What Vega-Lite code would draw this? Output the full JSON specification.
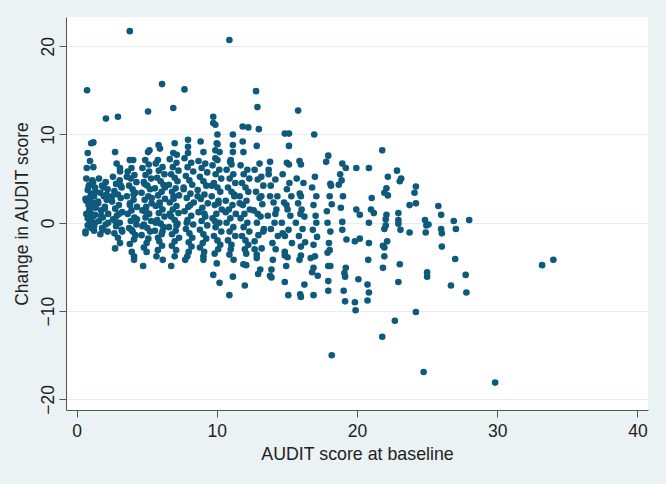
{
"$schema": "https://vega.github.io/schema/vega-lite/v6.json",
"width": 582, "height": 393,
"autosize": {"type": "none"},
"padding": {"left": 66, "top": 17, "right": 18, "bottom": 74},
"background": "#eaf2f3",
"config": {"view": {"fill": "#ffffff", "stroke": null}, "font": "Liberation Sans"},
"data": {"values": [
{"x":0.75,"y":15.0},{"x":1.2,"y":9.1},{"x":1.05,"y":9.0},{"x":0.8,"y":7.9},{"x":0.96,"y":7.0},{"x":0.73,"y":6.2},{"x":1.2,"y":6.3},
{"x":0.70,"y":5.0},{"x":1.18,"y":4.6},{"x":0.92,"y":4.3},{"x":1.32,"y":4.0},{"x":0.80,"y":3.7},{"x":1.05,"y":3.3},{"x":1.25,"y":3.0},{"x":0.64,"y":2.7},{"x":1.12,"y":2.3},{"x":0.86,"y":2.0},{"x":1.36,"y":1.7},{"x":0.97,"y":1.3},{"x":0.70,"y":1.0},{"x":1.18,"y":0.7},{"x":0.92,"y":0.3},{"x":1.32,"y":0.0},{"x":0.80,"y":-0.3},{"x":1.05,"y":-0.6},{"x":1.25,"y":-0.9},{"x":0.64,"y":-1.2},{"x":1.12,"y":4.8},{"x":0.86,"y":4.1},{"x":1.36,"y":3.5},{"x":0.97,"y":2.9},{"x":0.70,"y":2.5},{"x":1.18,"y":1.9},{"x":0.92,"y":1.5},{"x":1.32,"y":0.9},{"x":0.80,"y":0.5},{"x":1.05,"y":0.1},{"x":1.25,"y":-0.4},{"x":0.64,"y":-1.0},{"x":1.12,"y":3.1},{"x":0.86,"y":1.1},
{"x":2.1,"y":11.8},
{"x":1.6,"y":5.0},{"x":2.08,"y":4.6},{"x":1.82,"y":4.2},{"x":2.22,"y":3.8},{"x":1.7,"y":3.4},{"x":1.95,"y":3.0},{"x":2.15,"y":2.6},{"x":1.54,"y":2.2},{"x":2.02,"y":1.8},{"x":1.76,"y":1.4},{"x":2.26,"y":1.0},{"x":1.87,"y":0.6},{"x":1.6,"y":0.2},{"x":2.08,"y":-0.2},{"x":1.82,"y":-0.6},{"x":2.22,"y":-1.0},{"x":1.7,"y":-1.3},{"x":1.95,"y":4.0},{"x":2.15,"y":3.2},{"x":1.54,"y":2.4},{"x":2.02,"y":1.6},{"x":1.76,"y":0.8},{"x":2.26,"y":0.0},{"x":1.87,"y":-0.8},
{"x":2.95,"y":12.0},{"x":2.75,"y":8.0},{"x":2.86,"y":6.7},{"x":3.1,"y":6.2},{"x":3.1,"y":5.8},
{"x":2.6,"y":5.2},{"x":3.08,"y":4.8},{"x":2.82,"y":4.4},{"x":3.22,"y":4.0},{"x":2.7,"y":3.6},{"x":2.95,"y":3.2},{"x":3.15,"y":2.8},{"x":2.54,"y":2.4},{"x":3.02,"y":2.0},{"x":2.76,"y":1.6},{"x":3.26,"y":1.2},{"x":2.87,"y":0.8},{"x":2.6,"y":0.4},{"x":3.08,"y":0.0},{"x":2.82,"y":-0.4},{"x":3.22,"y":-0.8},{"x":2.7,"y":-1.2},{"x":2.95,"y":-1.7},{"x":3.15,"y":4.2},{"x":2.54,"y":3.0},{"x":3.02,"y":1.0},{"x":2.76,"y":0.2},{"x":3.26,"y":-1.0},{"x":3.1,"y":-2.3},{"x":2.75,"y":-2.9},
{"x":3.8,"y":21.7},{"x":3.8,"y":7.1},{"x":4.04,"y":7.1},{"x":3.92,"y":6.2},
{"x":3.65,"y":5.8},{"x":4.13,"y":5.4},{"x":3.87,"y":5.0},{"x":4.27,"y":4.6},{"x":3.75,"y":4.2},{"x":4.0,"y":3.8},{"x":4.2,"y":3.4},{"x":3.59,"y":3.0},{"x":4.07,"y":2.6},{"x":3.81,"y":2.2},{"x":4.31,"y":1.8},{"x":3.92,"y":1.4},{"x":3.65,"y":1.0},{"x":4.13,"y":0.6},{"x":3.87,"y":0.2},{"x":4.27,"y":-0.2},{"x":3.75,"y":-0.6},{"x":4.0,"y":-1.0},{"x":4.2,"y":-1.4},{"x":3.59,"y":5.2},{"x":4.07,"y":3.2},{"x":3.81,"y":2.0},{"x":4.31,"y":0.4},{"x":3.92,"y":-0.8},
{"x":4.1,"y":-1.9},{"x":3.8,"y":-2.4},{"x":3.94,"y":-3.3},{"x":4.1,"y":-3.8},{"x":4.1,"y":-4.2},
{"x":5.1,"y":12.6},{"x":5.2,"y":8.2},{"x":5.1,"y":8.0},{"x":4.9,"y":7.1},{"x":5.15,"y":6.6},
{"x":4.7,"y":6.2},{"x":5.18,"y":5.8},{"x":4.92,"y":5.4},{"x":5.32,"y":5.0},{"x":4.8,"y":4.6},{"x":5.05,"y":4.2},{"x":5.25,"y":3.8},{"x":4.64,"y":3.4},{"x":5.12,"y":3.0},{"x":4.86,"y":2.6},{"x":5.36,"y":2.2},{"x":4.97,"y":1.8},{"x":4.7,"y":1.4},{"x":5.18,"y":1.0},{"x":4.92,"y":0.6},{"x":5.32,"y":0.2},{"x":4.8,"y":-0.2},{"x":5.05,"y":-0.6},{"x":5.25,"y":-1.0},{"x":4.64,"y":-1.4},{"x":5.12,"y":-1.8},{"x":4.86,"y":4.4},{"x":5.36,"y":2.8},{"x":4.97,"y":1.2},{"x":4.7,"y":-0.4},
{"x":5.0,"y":-2.3},{"x":4.8,"y":-2.8},{"x":5.0,"y":-3.3},{"x":4.75,"y":-4.9},
{"x":6.1,"y":15.7},{"x":5.85,"y":8.8},{"x":5.95,"y":8.4},{"x":5.8,"y":7.1},
{"x":5.65,"y":6.7},{"x":6.13,"y":6.3},{"x":5.87,"y":5.9},{"x":6.27,"y":5.5},{"x":5.75,"y":5.1},{"x":6.0,"y":4.7},{"x":6.2,"y":4.3},{"x":5.59,"y":3.9},{"x":6.07,"y":3.5},{"x":5.81,"y":3.1},{"x":6.31,"y":2.7},{"x":5.92,"y":2.3},{"x":5.65,"y":1.9},{"x":6.13,"y":1.5},{"x":5.87,"y":1.1},{"x":6.27,"y":0.7},{"x":5.75,"y":0.3},{"x":6.0,"y":-0.1},{"x":6.2,"y":-0.5},{"x":5.59,"y":-0.9},{"x":6.07,"y":-1.3},{"x":5.81,"y":-1.7},{"x":6.31,"y":4.0},{"x":5.92,"y":2.0},{"x":5.65,"y":0.0},{"x":6.13,"y":-1.0},
{"x":5.9,"y":-2.1},{"x":6.1,"y":-2.6},{"x":5.8,"y":-3.1},{"x":5.7,"y":-3.8},{"x":6.15,"y":-4.2},
{"x":6.9,"y":13.0},{"x":7.0,"y":9.0},{"x":6.9,"y":7.9},{"x":7.15,"y":7.7},
{"x":6.65,"y":7.2},{"x":7.13,"y":6.8},{"x":6.87,"y":6.3},{"x":7.27,"y":5.9},{"x":6.75,"y":5.5},{"x":7.0,"y":5.1},{"x":7.2,"y":4.7},{"x":6.59,"y":4.3},{"x":7.07,"y":3.9},{"x":6.81,"y":3.5},{"x":7.31,"y":3.1},{"x":6.92,"y":2.7},{"x":6.65,"y":2.3},{"x":7.13,"y":1.9},{"x":6.87,"y":1.5},{"x":7.27,"y":1.1},{"x":6.75,"y":0.7},{"x":7.0,"y":0.3},{"x":7.2,"y":-0.1},{"x":6.59,"y":-0.5},{"x":7.07,"y":-0.9},{"x":6.81,"y":-1.3},{"x":7.31,"y":-1.7},{"x":6.92,"y":3.0},{"x":6.65,"y":1.0},{"x":7.13,"y":-0.3},
{"x":7.0,"y":-2.1},{"x":6.8,"y":-2.6},{"x":7.1,"y":-3.1},{"x":7.0,"y":-3.8},{"x":6.75,"y":-4.9},
{"x":7.7,"y":15.1},{"x":7.95,"y":9.4},{"x":7.95,"y":8.6},{"x":7.95,"y":7.9},
{"x":7.7,"y":7.3},{"x":8.18,"y":6.8},{"x":7.92,"y":6.3},{"x":8.32,"y":5.8},{"x":7.8,"y":5.3},{"x":8.05,"y":4.8},{"x":8.25,"y":4.3},{"x":7.64,"y":3.8},{"x":8.12,"y":3.3},{"x":7.86,"y":2.8},{"x":8.36,"y":2.3},{"x":7.97,"y":1.8},{"x":7.7,"y":1.3},{"x":8.18,"y":0.8},{"x":7.92,"y":0.3},{"x":8.32,"y":-0.2},{"x":7.8,"y":-0.7},{"x":8.05,"y":-1.2},{"x":8.25,"y":-1.7},{"x":7.64,"y":4.0},{"x":8.12,"y":2.0},{"x":7.86,"y":0.0},
{"x":8.0,"y":-2.2},{"x":8.2,"y":-2.7},{"x":8.0,"y":-3.3},{"x":7.9,"y":-3.8},{"x":7.75,"y":-4.2},
{"x":8.85,"y":9.2},{"x":9.05,"y":8.0},
{"x":8.7,"y":7.0},{"x":9.18,"y":6.7},{"x":8.92,"y":6.2},{"x":9.32,"y":5.7},{"x":8.8,"y":5.2},{"x":9.05,"y":4.7},{"x":9.25,"y":4.2},{"x":8.64,"y":3.7},{"x":9.12,"y":3.2},{"x":8.86,"y":2.7},{"x":9.36,"y":2.2},{"x":8.97,"y":1.7},{"x":8.7,"y":1.2},{"x":9.18,"y":0.7},{"x":8.92,"y":0.2},{"x":9.32,"y":-0.3},{"x":8.8,"y":-0.8},{"x":9.05,"y":-1.3},{"x":9.25,"y":-1.8},{"x":8.64,"y":3.0},{"x":9.12,"y":1.0},
{"x":9.0,"y":-2.3},{"x":8.8,"y":-2.8},{"x":9.1,"y":-3.3},{"x":9.05,"y":-3.8},{"x":9.05,"y":-4.2},
{"x":9.75,"y":12.0},{"x":9.75,"y":11.3},{"x":9.9,"y":11.1},{"x":10.05,"y":10.0},{"x":10.0,"y":9.0},{"x":10.05,"y":8.9},{"x":9.9,"y":8.2},{"x":10.2,"y":8.0},{"x":9.9,"y":7.3},{"x":10.05,"y":7.1},
{"x":9.7,"y":6.5},{"x":10.18,"y":6.0},{"x":9.92,"y":5.5},{"x":10.32,"y":5.0},{"x":9.8,"y":4.5},{"x":10.05,"y":4.0},{"x":10.25,"y":3.5},{"x":9.64,"y":3.0},{"x":10.12,"y":2.5},{"x":9.86,"y":2.0},{"x":10.36,"y":1.5},{"x":9.97,"y":1.0},{"x":9.7,"y":0.5},{"x":10.18,"y":0.0},{"x":9.92,"y":-0.5},{"x":10.32,"y":-1.0},{"x":9.8,"y":-1.5},{"x":10.05,"y":-2.0},{"x":10.25,"y":-2.5},{"x":9.64,"y":4.2},{"x":10.12,"y":2.2},{"x":9.86,"y":0.2},
{"x":10.1,"y":-3.0},{"x":9.85,"y":-3.5},{"x":10.0,"y":-4.6},{"x":9.75,"y":-5.9},{"x":10.2,"y":-6.8},
{"x":10.9,"y":20.7},{"x":11.15,"y":10.0},{"x":11.15,"y":8.8},{"x":11.15,"y":8.0},{"x":11.0,"y":7.1},{"x":10.95,"y":6.9},{"x":11.05,"y":6.6},
{"x":10.7,"y":6.0},{"x":11.18,"y":5.5},{"x":10.92,"y":5.0},{"x":11.32,"y":4.5},{"x":10.8,"y":4.0},{"x":11.05,"y":3.5},{"x":11.25,"y":3.0},{"x":10.64,"y":2.5},{"x":11.12,"y":2.0},{"x":10.86,"y":1.5},{"x":11.36,"y":1.0},{"x":10.97,"y":0.5},{"x":10.7,"y":0.0},{"x":11.18,"y":-0.5},{"x":10.92,"y":-1.0},{"x":11.32,"y":-1.5},{"x":10.8,"y":-2.0},{"x":11.05,"y":-2.5},{"x":11.25,"y":3.2},{"x":10.64,"y":1.2},
{"x":11.0,"y":-3.0},{"x":10.9,"y":-3.6},{"x":11.2,"y":-4.2},{"x":11.15,"y":-6.1},{"x":10.9,"y":-8.2},
{"x":11.85,"y":10.9},{"x":12.25,"y":10.8},{"x":11.85,"y":9.2},{"x":11.9,"y":8.0},
{"x":11.7,"y":6.5},{"x":12.18,"y":6.0},{"x":11.92,"y":5.5},{"x":12.32,"y":5.0},{"x":11.8,"y":4.5},{"x":12.05,"y":4.0},{"x":12.25,"y":3.5},{"x":11.64,"y":3.0},{"x":12.12,"y":2.5},{"x":11.86,"y":2.0},{"x":12.36,"y":1.5},{"x":11.97,"y":1.0},{"x":11.7,"y":0.5},{"x":12.18,"y":0.0},{"x":11.92,"y":-0.5},{"x":12.32,"y":-1.0},{"x":11.8,"y":-1.5},{"x":12.05,"y":-2.0},{"x":12.25,"y":-2.5},{"x":11.64,"y":2.2},
{"x":12.0,"y":-3.0},{"x":12.1,"y":-3.5},{"x":11.9,"y":-4.7},{"x":12.1,"y":-4.8},{"x":12.0,"y":-7.1},
{"x":12.8,"y":14.9},{"x":12.9,"y":13.1},{"x":13.0,"y":10.6},{"x":12.85,"y":8.7},{"x":13.05,"y":6.7},
{"x":12.7,"y":6.0},{"x":13.18,"y":5.2},{"x":12.92,"y":4.9},{"x":13.32,"y":4.2},{"x":12.8,"y":3.5},{"x":13.05,"y":2.8},{"x":13.25,"y":2.1},{"x":12.64,"y":1.4},{"x":13.12,"y":0.7},{"x":12.86,"y":0.0},{"x":13.36,"y":-0.7},{"x":12.97,"y":-1.4},{"x":12.7,"y":-2.1},{"x":13.18,"y":3.0},{"x":12.92,"y":1.0},{"x":13.32,"y":-1.0},
{"x":13.2,"y":-2.9},{"x":12.7,"y":-3.0},{"x":12.85,"y":-3.6},{"x":12.85,"y":-4.0},{"x":13.1,"y":-5.3},{"x":12.95,"y":-5.8},
{"x":13.8,"y":6.9},
{"x":13.7,"y":6.0},{"x":14.18,"y":4.9},{"x":13.85,"y":4.2},{"x":14.32,"y":3.0},{"x":13.8,"y":3.0},{"x":14.05,"y":2.3},{"x":14.25,"y":1.5},{"x":13.64,"y":0.8},{"x":14.12,"y":0.0},{"x":13.86,"y":-0.7},{"x":14.36,"y":-1.5},{"x":13.97,"y":-2.3},{"x":13.7,"y":5.5},{"x":14.18,"y":1.0},
{"x":14.2,"y":-3.0},{"x":14.0,"y":-4.2},{"x":13.9,"y":-5.3},{"x":13.8,"y":-6.0},{"x":13.9,"y":-6.2},
{"x":14.85,"y":10.1},{"x":15.15,"y":10.1},{"x":15.15,"y":8.7},{"x":15.0,"y":6.8},{"x":15.15,"y":6.6},
{"x":14.7,"y":5.5},{"x":15.18,"y":4.5},{"x":15.0,"y":3.8},{"x":15.32,"y":3.0},{"x":14.8,"y":2.3},{"x":15.05,"y":1.5},{"x":15.25,"y":0.8},{"x":14.64,"y":0.0},{"x":15.12,"y":-0.8},{"x":14.86,"y":-1.5},{"x":15.36,"y":-2.3},{"x":14.97,"y":2.0},{"x":14.7,"y":-1.2},
{"x":14.85,"y":-3.3},{"x":14.85,"y":-3.7},{"x":15.05,"y":-3.9},{"x":14.95,"y":-4.9},{"x":14.85,"y":-6.7},{"x":15.1,"y":-8.2},
{"x":15.8,"y":12.7},{"x":15.9,"y":7.0},{"x":16.0,"y":6.6},
{"x":15.7,"y":5.0},{"x":16.18,"y":4.5},{"x":15.92,"y":3.3},{"x":16.0,"y":3.0},{"x":15.8,"y":2.2},{"x":16.05,"y":1.5},{"x":16.25,"y":0.7},{"x":15.64,"y":0.0},{"x":16.12,"y":-0.7},{"x":15.86,"y":-1.5},{"x":16.3,"y":-2.2},{"x":15.97,"y":1.0},
{"x":16.0,"y":-2.7},{"x":16.0,"y":-3.7},{"x":15.9,"y":-4.2},{"x":16.25,"y":-7.0},{"x":15.95,"y":-8.1},{"x":16.0,"y":-8.4},
{"x":16.95,"y":10.0},{"x":17.0,"y":5.2},{"x":16.8,"y":4.0},{"x":17.1,"y":3.0},{"x":16.9,"y":2.0},{"x":17.05,"y":0.8},{"x":17.1,"y":0.0},{"x":16.85,"y":-0.8},{"x":17.15,"y":-1.6},{"x":16.9,"y":-2.5},{"x":17.0,"y":-3.8},{"x":16.7,"y":-4.0},{"x":16.9,"y":-5.1},{"x":16.8,"y":-5.6},{"x":17.2,"y":-6.0},{"x":16.9,"y":-8.2},
{"x":17.95,"y":7.6},{"x":17.8,"y":6.9},{"x":18.1,"y":4.4},{"x":18.15,"y":4.2},{"x":18.05,"y":3.0},{"x":18.2,"y":2.1},{"x":17.85,"y":1.3},{"x":17.9,"y":0.0},{"x":18.1,"y":-1.0},{"x":18.0,"y":-2.3},{"x":18.05,"y":-3.1},{"x":17.9,"y":-3.4},{"x":17.95,"y":-4.9},{"x":18.1,"y":-4.9},{"x":17.95,"y":-6.6},{"x":17.95,"y":-7.7},{"x":18.2,"y":-15.0},
{"x":18.95,"y":6.7},{"x":19.2,"y":6.2},{"x":18.8,"y":5.5},{"x":18.9,"y":4.8},{"x":18.7,"y":4.3},{"x":18.85,"y":1.7},{"x":18.95,"y":0.1},{"x":18.95,"y":-0.8},{"x":19.25,"y":-1.9},{"x":19.2,"y":-5.1},{"x":19.1,"y":-5.7},{"x":19.15,"y":-6.1},{"x":19.05,"y":-7.7},{"x":19.15,"y":-8.9},{"x":19.0,"y":3.0},
{"x":19.95,"y":6.2},{"x":19.95,"y":1.5},{"x":20.2,"y":0.9},{"x":20.2,"y":-1.8},{"x":19.85,"y":-2.1},{"x":20.1,"y":-6.4},{"x":19.85,"y":-9.0},{"x":19.9,"y":-9.9},
{"x":20.85,"y":6.2},{"x":21.05,"y":2.8},{"x":21.0,"y":1.5},{"x":21.2,"y":1.1},{"x":20.85,"y":0.0},{"x":20.85,"y":-2.3},{"x":20.8,"y":-4.2},{"x":20.75,"y":-7.0},{"x":20.85,"y":-7.9},{"x":20.75,"y":-8.8},
{"x":21.8,"y":8.2},{"x":22.2,"y":5.2},{"x":22.1,"y":3.9},{"x":21.95,"y":3.4},{"x":22.2,"y":3.1},{"x":22.1,"y":0.9},{"x":22.05,"y":0.4},{"x":22.05,"y":-0.3},{"x":21.95,"y":-0.7},{"x":22.15,"y":-2.1},{"x":21.85,"y":-2.6},{"x":21.95,"y":-2.8},{"x":21.95,"y":-3.8},{"x":21.85,"y":-5.1},{"x":21.8,"y":-12.9},
{"x":22.85,"y":5.9},{"x":23.15,"y":5.0},{"x":23.05,"y":4.7},{"x":22.95,"y":1.1},{"x":22.95,"y":0.3},{"x":22.95,"y":-0.1},{"x":23.1,"y":-0.8},{"x":23.05,"y":-4.7},{"x":22.95,"y":-6.7},{"x":22.7,"y":-11.1},
{"x":24.2,"y":4.1},{"x":24.1,"y":3.4},{"x":24.2,"y":2.2},{"x":23.75,"y":2.0},{"x":23.75,"y":-1.1},{"x":24.2,"y":-10.1},
{"x":24.85,"y":0.3},{"x":25.1,"y":-0.2},{"x":24.95,"y":-0.3},{"x":24.9,"y":-1.1},{"x":25.0,"y":-5.6},{"x":25.0,"y":-6.1},{"x":24.75,"y":-16.9},
{"x":25.8,"y":1.9},{"x":26.0,"y":0.9},{"x":26.0,"y":-0.7},{"x":26.05,"y":-1.2},{"x":26.05,"y":-2.7},{"x":26.7,"y":-7.1},
{"x":26.9,"y":0.2},{"x":27.05,"y":-0.7},{"x":27.0,"y":-4.1},{"x":27.75,"y":-5.9},{"x":27.8,"y":-7.9},
{"x":28.0,"y":0.3},
{"x":29.85,"y":-18.1},{"x":33.2,"y":-4.8},{"x":34.0,"y":-4.2}
]},
"mark": {"type": "point", "filled": true, "shape": "circle", "size": 44, "color": "#0d5a7c", "opacity": 1},
"encoding": {
  "x": {"field": "x", "type": "quantitative",
    "scale": {"domain": [-0.75, 40.75], "nice": false, "zero": false},
    "axis": {"values": [0, 10, 20, 30, 40], "title": "AUDIT score at baseline", "grid": false,
      "domainColor": "#555555", "tickColor": "#555555", "tickSize": 7,
      "labelFontSize": 17.5, "labelColor": "#222222", "labelPadding": 5, "labelFlush": false,
      "titleFontSize": 17.8, "titleFontWeight": "normal", "titleColor": "#222222",
      "titleY": 49, "titleBaseline": "alphabetic"}},
  "y": {"field": "y", "type": "quantitative",
    "scale": {"domain": [-21.2, 23.3], "nice": false, "zero": false},
    "axis": {"values": [-20, -10, 0, 10, 20], "title": "Change in AUDIT score", "grid": true,
      "gridColor": "#e4eef0", "gridWidth": 1,
      "domainColor": "#555555", "tickColor": "#555555", "tickSize": 7,
      "labelFontSize": 17.5, "labelColor": "#222222", "labelAngle": 270, "labelAlign": "center",
      "labelBaseline": "alphabetic", "labelPadding": 6, "labelFlush": false,
      "titleFontSize": 17.5, "titleFontWeight": "normal", "titleColor": "#222222",
      "titleX": -44, "titleBaseline": "middle", "titleAngle": 270}}
}
}
